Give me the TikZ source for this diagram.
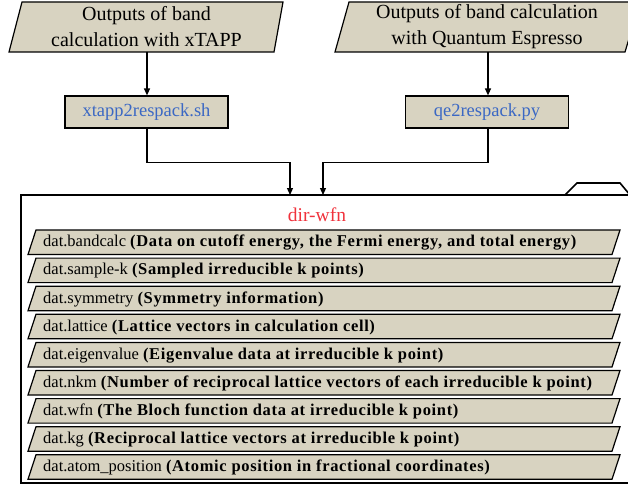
\documentclass[tikz,border=0pt]{standalone}
\usepackage{fontspec}
\setmainfont{Liberation Serif}
\newfontfamily\boldspaced[LetterSpace=4.0]{Liberation Serif}
\usetikzlibrary{arrows.meta}
\definecolor{tanfill}{RGB}{216,211,193}
\definecolor{scriptblue}{RGB}{59,104,196}
\definecolor{dirred}{RGB}{240,50,60}
\tikzset{
  para/.style={draw=black, fill=tanfill, line width=1.2pt, line join=miter},
  scriptbox/.style={draw=black, fill=tanfill, line width=1.2pt, minimum width=163pt, minimum height=32pt, inner sep=0pt, text=scriptblue, font=\fontsize{18.5}{22}\selectfont},
  toptext/.style={align=center, font=\fontsize{20}{26}\selectfont, inner sep=0pt},
  rowtext/.style={anchor=west, inner sep=0pt, font=\fontsize{16.5}{18}\selectfont},
  arr/.style={line width=1.2pt, -{Triangle[length=7pt,width=6pt]}},
  folder/.style={line width=1.6pt}
}
\begin{document}
\begin{tikzpicture}[x=1pt,y=-1pt]
\useasboundingbox (0,0) rectangle (628,487);
\clip (0,0) rectangle (628,487);
% top inputs
\draw[para] (22,2) -- (283,2) -- (274,52) -- (9,52) -- cycle;
\node[toptext] (in1) at (146.5,27) {Outputs of band\\calculation with xTAPP};
\coordinate (in1b) at (147,52);
\draw[para] (349,2) -- (640,2) -- (625,52) -- (335,52) -- cycle;
\node[toptext] (in2) at (487,27) {Outputs of band calculation\\with Quantum Espresso};
\coordinate (in2b) at (488,52);
% script boxes
\node[scriptbox] (xt) at (146.5,112) {xtapp2respack.sh};
\node[scriptbox] (qe) at (487,112) {qe2respack.py};
\draw[arr] (in1b) -- (in1b |- xt.north);
\draw[arr] (in2b) -- (in2b |- qe.north);
% folder
\draw[folder] (640,195) -- (21,195) -- (21,483) -- (640,483);
\draw[folder, line join=miter] (565,195) -- (577,183) -- (620,183) -- (630,195);
\coordinate (fa) at (290,195);
\coordinate (fb) at (323,195);
\draw[arr] (xt.south -| in1b) -- ++(0,34) -| (fa);
\draw[arr] (qe.south -| in2b) -- ++(0,34) -| (fb);
\node[text=dirred, font=\fontsize{19.5}{22}\selectfont, inner sep=0pt] (dir) at (317,215) {dir-wfn};
% rows
\foreach \i/\a/\b in {
  0/dat.bandcalc/Data on cutoff energy{,} the Fermi energy{,} and total energy,
  1/dat.sample-k/Sampled irreducible k points,
  2/dat.symmetry/Symmetry information,
  3/dat.lattice/Lattice vectors in calculation cell,
  4/dat.eigenvalue/Eigenvalue data at irreducible k point,
  5/dat.nkm/Number of reciprocal lattice vectors of each irreducible k point,
  6/dat.wfn/The Bloch function data at irreducible k point,
  7/dat.kg/Reciprocal lattice vectors at irreducible k point,
  8/dat.atom\_position/Atomic position in fractional coordinates}{
  \pgfmathsetmacro{\yt}{230+28.1*\i}
  \pgfmathsetmacro{\yb}{\yt+24.5}
  \pgfmathsetmacro{\yc}{\yt+12.8}
  \draw[para] (36,\yt) -- (620,\yt) -- (612,\yb) -- (28,\yb) -- cycle;
  \node[rowtext] (row\i) at (43,\yc) {\a{} {\boldspaced\bfseries(\b)}};
}
\end{tikzpicture}
\end{document}
